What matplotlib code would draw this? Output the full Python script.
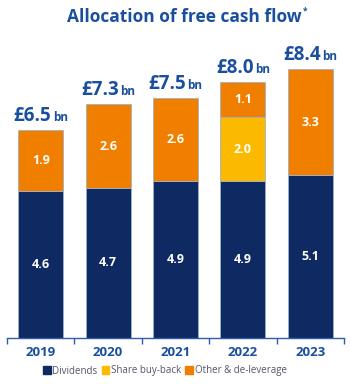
import matplotlib
matplotlib.use("Agg")
import matplotlib.pyplot as plt
import numpy as np
from matplotlib.offsetbox import TextArea, HPacker, AnnotationBbox
from matplotlib.patches import Patch

years = ["2019", "2020", "2021", "2022", "2023"]
dividends = [4.6, 4.7, 4.9, 4.9, 5.1]
buyback = [0.0, 0.0, 0.0, 2.0, 0.0]
other = [1.9, 2.6, 2.6, 1.1, 3.3]
totals = ["£6.5", "£7.3", "£7.5", "£8.0", "£8.4"]
series_names = ["Dividends", "Share buy-back", "Other & de-leverage"]

NAVY = "#0F2A63"
YELLOW = "#FBB900"
ORANGE = "#F07F00"
BLUE = "#1A4F9E"
EDGE = "#9FB0CC"

plt.rcParams['font.family'] = ['Open Sans', 'DejaVu Sans']
fig = plt.figure(figsize=(3.51, 3.84), dpi=100)
ax = fig.add_axes([0.02, 1 - 338/384, 0.96, (338 - 40)/384])

x = np.arange(len(years))
w = 0.67
div = np.array(dividends)
bb = np.array(buyback)
ot = np.array(other)

ax.bar(x, div, w, color=NAVY, edgecolor=EDGE, linewidth=0.6)
ax.bar(x, bb, w, bottom=div, color=YELLOW, edgecolor=EDGE, linewidth=0.6)
ax.bar(x, ot, w, bottom=div + bb, color=ORANGE, edgecolor=EDGE, linewidth=0.6)

for i in range(len(years)):
    ax.text(x[i], div[i]/2, f"{div[i]:.1f}", ha='center', va='center',
            color='white', fontsize=9, fontweight='bold')
    if bb[i] > 0:
        ax.text(x[i], div[i] + bb[i]/2, f"{bb[i]:.1f}", ha='center', va='center',
                color='white', fontsize=9, fontweight='bold')
    ax.text(x[i], div[i] + bb[i] + ot[i]/2, f"{ot[i]:.1f}", ha='center', va='center',
            color='white', fontsize=9, fontweight='bold')
    top = div[i] + bb[i] + ot[i]
    ta1 = TextArea(totals[i], textprops=dict(color=BLUE, fontsize=13.5, fontweight='bold'))
    ta2 = TextArea("bn", textprops=dict(color=BLUE, fontsize=8.5, fontweight='bold'))
    pk = HPacker(children=[ta1, ta2], align="baseline", pad=0, sep=1)
    ab = AnnotationBbox(pk, (x[i], top), xybox=(0, 3), xycoords='data',
                        boxcoords="offset points", box_alignment=(0.5, 0),
                        frameon=False, pad=0)
    ax.add_artist(ab)

ax.set_xlim(-0.5, 4.5)
ax.set_ylim(0, 298/32)
for s in ['top', 'right', 'left']:
    ax.spines[s].set_visible(False)
ax.spines['bottom'].set_color('#2F5DA8')
ax.spines['bottom'].set_linewidth(1.0)
ax.set_yticks([])
ax.set_xticks(x)
ax.set_xticklabels(years, color=BLUE, fontsize=9.5, fontweight='bold')
ax.tick_params(axis='x', which='major', length=0, pad=6)
ax.set_xticks(np.arange(-0.5, 5.0, 1.0), minor=True)
ax.tick_params(axis='x', which='minor', length=4, width=1.0, color='#2F5DA8', direction='out')

fig.text(0.525, 1 - 17/384, "Allocation of free cash flow", ha='center', va='center',
         color=BLUE, fontsize=12.5, fontweight='bold')
fig.text(0.862, 1 - 11/384, "*", ha='left', va='center', color=BLUE, fontsize=6, fontweight='bold')

handles = [Patch(color=NAVY), Patch(color=YELLOW), Patch(color=ORANGE)]
leg = fig.legend(handles, series_names, loc='center', bbox_to_anchor=(0.47, 1 - 371/384),
                 ncol=3, frameon=False, fontsize=7, handlelength=0.8, handleheight=0.8,
                 handletextpad=0.2, columnspacing=0.4, labelcolor='#555566')

fig.savefig("out.png", dpi=100)
